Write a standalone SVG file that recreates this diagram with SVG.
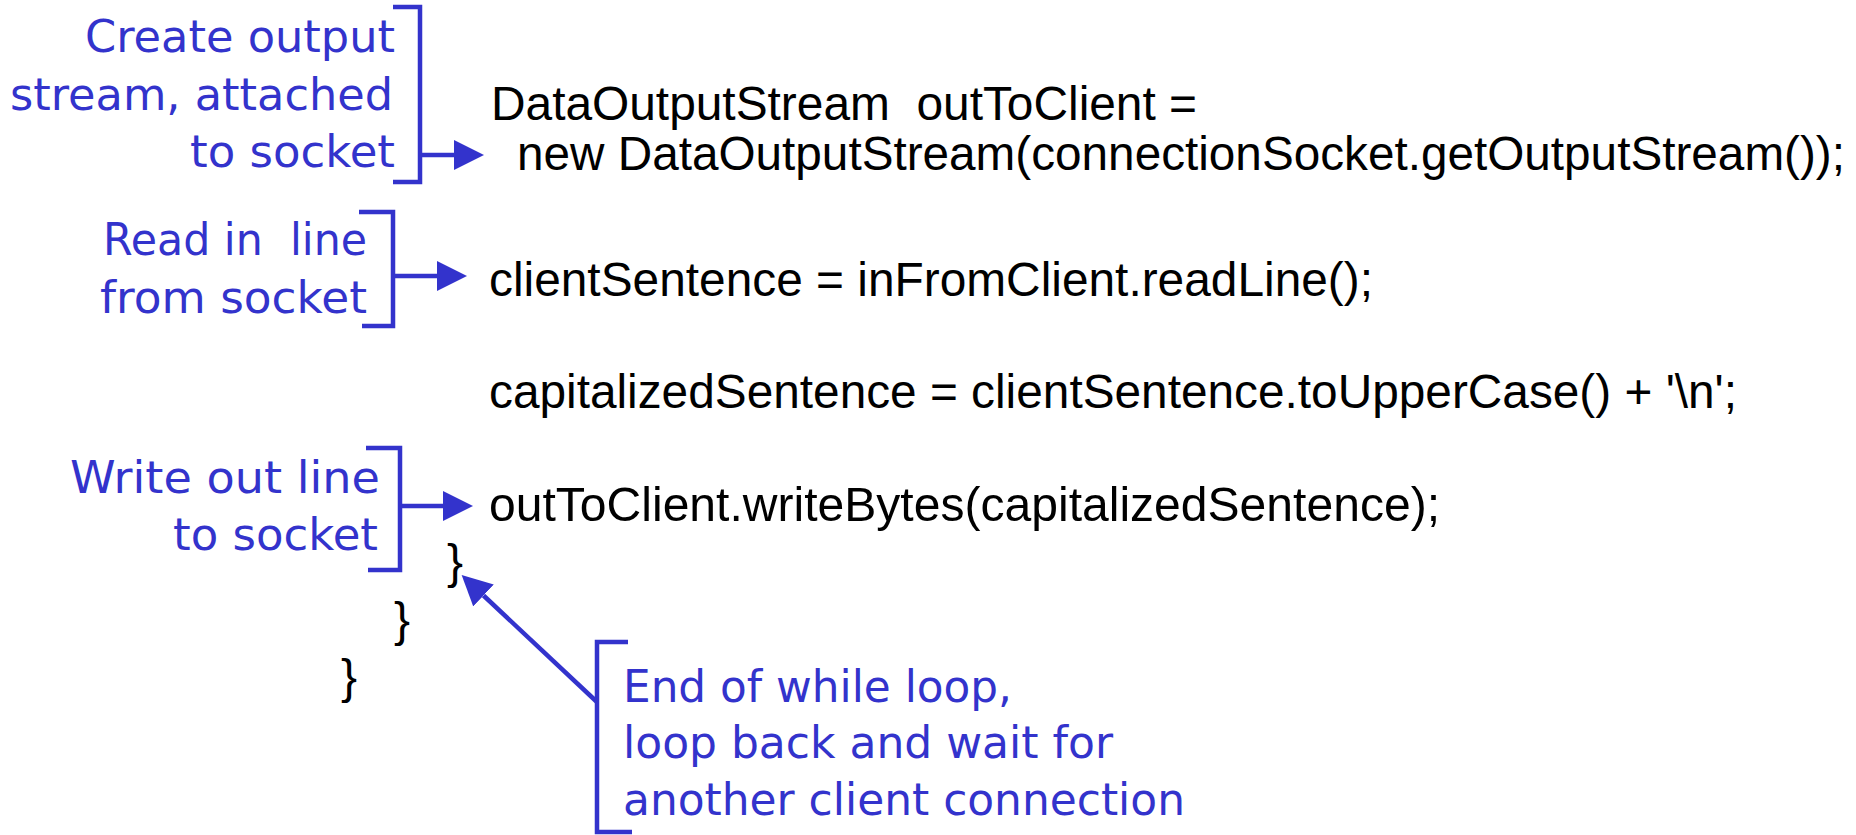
<svg xmlns="http://www.w3.org/2000/svg" width="1856" height="835" viewBox="0 0 1856 835">
  <style>
    .code { font-family: "Liberation Sans", Arial, sans-serif; font-size: 48px; fill: #000; white-space: pre; }
    .note { font-family: "DejaVu Sans", "Liberation Sans", sans-serif; font-size: 44px; fill: #3333CC; white-space: pre; }
    .bracket { fill: none; stroke: #3333CC; stroke-width: 4.5; stroke-linejoin: miter; }
    .link { fill: none; stroke: #3333CC; stroke-width: 4.5; }
  </style>
  <defs>
    <marker id="head" viewBox="0 0 30 30" refX="0" refY="15" markerWidth="30" markerHeight="30" markerUnits="userSpaceOnUse" orient="auto">
      <path d="M0,0 L30,15 L0,30 Z" fill="#3333CC"/>
    </marker>
  </defs>
  <rect width="1856" height="835" fill="#ffffff"/>

  <!-- server code -->
  <g id="code">
    <text class="code" x="491" y="120" textLength="706" lengthAdjust="spacingAndGlyphs">DataOutputStream  outToClient =</text>
    <text class="code" x="517" y="170" textLength="1328" lengthAdjust="spacingAndGlyphs">new DataOutputStream(connectionSocket.getOutputStream());</text>
    <text class="code" x="489" y="296" textLength="884" lengthAdjust="spacingAndGlyphs">clientSentence = inFromClient.readLine();</text>
    <text class="code" x="489" y="408" textLength="1248" lengthAdjust="spacingAndGlyphs">capitalizedSentence = clientSentence.toUpperCase() + '\n';</text>
    <text class="code" x="489" y="521" textLength="951" lengthAdjust="spacingAndGlyphs">outToClient.writeBytes(capitalizedSentence);</text>
    <text class="code" x="447" y="578">}</text>
    <text class="code" x="394" y="636">}</text>
    <text class="code" x="341" y="693">}</text>
  </g>

  <!-- annotation: output stream -->
  <g id="note-output-stream">
    <path class="bracket" d="M393,7 H420 V182 H393"/>
    <text class="note" x="85" y="52" textLength="310" lengthAdjust="spacingAndGlyphs">Create output</text>
    <text class="note" x="10" y="110" textLength="383" lengthAdjust="spacingAndGlyphs">stream, attached</text>
    <text class="note" x="190" y="167" textLength="205" lengthAdjust="spacingAndGlyphs">to socket</text>
  </g>

  <!-- annotation: read line -->
  <g id="note-read-line">
    <path class="bracket" d="M359,212 H393 V326 H362"/>
    <text class="note" x="103" y="255" textLength="264" lengthAdjust="spacingAndGlyphs">Read in  line</text>
    <text class="note" x="100" y="313" textLength="267" lengthAdjust="spacingAndGlyphs">from socket</text>
  </g>

  <!-- annotation: write line -->
  <g id="note-write-line">
    <path class="bracket" d="M366,448 H400 V570 H368"/>
    <text class="note" x="70" y="493" textLength="310" lengthAdjust="spacingAndGlyphs">Write out line</text>
    <text class="note" x="173" y="550" textLength="205" lengthAdjust="spacingAndGlyphs">to socket</text>
  </g>

  <!-- annotation: end of loop -->
  <g id="note-end-loop">
    <path class="bracket" d="M628,642 H597 V832 H632"/>
    <text class="note" x="623" y="702" textLength="389" lengthAdjust="spacingAndGlyphs">End of while loop,</text>
    <text class="note" x="623" y="758" textLength="490" lengthAdjust="spacingAndGlyphs">loop back and wait for</text>
    <text class="note" x="623" y="815" textLength="562" lengthAdjust="spacingAndGlyphs">another client connection</text>
  </g>

  <!-- connectors -->
  <g id="connectors">
    <line class="link" x1="422" y1="155" x2="454" y2="155" marker-end="url(#head)"/>
    <line class="link" x1="395" y1="276" x2="437" y2="276" marker-end="url(#head)"/>
    <line class="link" x1="402" y1="506" x2="443" y2="506" marker-end="url(#head)"/>
    <line class="link" x1="597" y1="702" x2="483.5" y2="595.5" marker-end="url(#head)"/>
  </g>
</svg>
